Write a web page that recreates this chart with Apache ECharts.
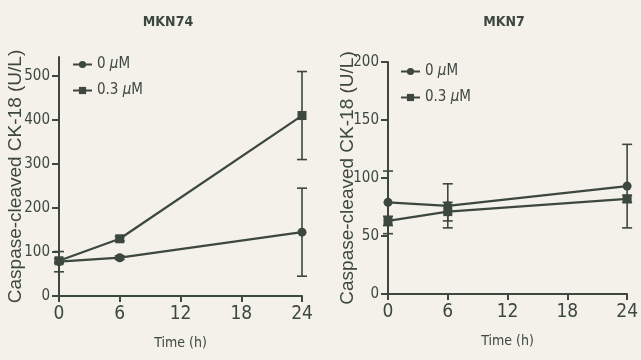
<!DOCTYPE html>
<html>
<head>
<meta charset="utf-8">
<script src="https://cdn.jsdelivr.net/npm/echarts@6/dist/echarts.min.js"></script>
<style>
  html, body { margin: 0; padding: 0; background: #f3f1ea; }
  #chart { width: 641px; height: 360px; }
</style>
</head>
<body>
<div id="chart"></div>
<script>
// 数据
const times = [0, 6, 24];
const seriesNames = ['0 µM', '0.3 µM'];
const xTicks = [0, 6, 12, 18, 24];

// MKN74
const mkn74Mean0 = [78, 87, 145];
const mkn74Sd0 = [23, 4, 100];
const mkn74Mean03 = [80, 130, 410];
const mkn74Sd03 = [5, 5, 100];
const mkn74YTicks = [0, 100, 200, 300, 400, 500];

// MKN7
const mkn7Mean0 = [79, 76, 93];
const mkn7Sd0 = [27, 19, 36];
const mkn7Mean03 = [63, 71, 82];
const mkn7Sd03 = [4, 8, 3];
const mkn7YTicks = [0, 50, 100, 150, 200];

const ink = '#3c473d';
const font = '"Liberation Sans Narrow", "DejaVu Sans Condensed", "Liberation Sans", sans-serif';

const chart = echarts.init(document.getElementById('chart'));

const errData = (mean, sd) => times.map((t, i) => [t, mean[i] - sd[i], mean[i] + sd[i]]);

// 误差棒
const errorBar = (idx, mean, sd) => ({
    type: 'custom',
    xAxisIndex: idx,
    yAxisIndex: idx,
    data: errData(mean, sd),
    encode: { x: 0, y: [1, 2] },
    silent: true,
    z: 3,
    renderItem: (params, api) => {
        const x = api.value(0);
        const lo = api.coord([x, api.value(1)]);
        const hi = api.coord([x, api.value(2)]);
        const w = 5;
        const style = { stroke: ink, lineWidth: 1.6 };
        return {
            type: 'group',
            children: [
                { type: 'line', shape: { x1: lo[0], y1: lo[1], x2: hi[0], y2: hi[1] }, style },
                { type: 'line', shape: { x1: hi[0] - w, y1: hi[1], x2: hi[0] + w, y2: hi[1] }, style },
                { type: 'line', shape: { x1: lo[0] - w, y1: lo[1], x2: lo[0] + w, y2: lo[1] }, style }
            ]
        };
    }
});

const lineSeries = (idx, name, mean, symbol) => ({
    name: name,
    type: 'line',
    xAxisIndex: idx,
    yAxisIndex: idx,
    data: times.map((t, i) => [t, mean[i]]),
    symbol: symbol,
    symbolSize: 9,
    lineStyle: { color: ink, width: 2.2 },
    itemStyle: { color: ink },
    z: 4
});

const xAxisCfg = (idx) => ({
    type: 'value',
    gridIndex: idx,
    min: 0, max: 24, interval: 6,
    name: 'Time (h)',
    nameLocation: 'middle',
    nameGap: 40,
    nameMoveOverlap: false,
    nameTextStyle: { color: ink, fontFamily: font, fontSize: 14 },
    axisLine: { lineStyle: { color: ink, width: 2 } },
    axisTick: { length: 6, customValues: xTicks, lineStyle: { color: ink, width: 2 } },
    axisLabel: { color: ink, fontFamily: font, fontSize: 19, margin: 9, customValues: xTicks },
    splitLine: { show: false }
});

const yAxisCfg = (idx, max, interval, ticks, gap) => ({
    type: 'value',
    gridIndex: idx,
    min: 0, max: max, interval: interval,
    name: 'Caspase-cleaved CK-18 (U/L)',
    nameLocation: 'middle',
    nameGap: gap,
    nameMoveOverlap: false,
    nameTextStyle: { color: ink, fontFamily: '"Liberation Sans", sans-serif', fontSize: 19 },
    axisLine: { show: true, lineStyle: { color: ink, width: 2 } },
    axisTick: { show: true, length: 7, customValues: ticks, lineStyle: { color: ink, width: 2 } },
    axisLabel: { color: ink, fontFamily: font, fontSize: 15, margin: 9, customValues: ticks },
    splitLine: { show: false }
});

const legendCfg = (left, top) => ({
    left: left,
    top: top,
    orient: 'vertical',
    itemWidth: 19,
    itemHeight: 9,
    itemGap: 11,
    data: seriesNames,
    textStyle: {
        color: ink, fontFamily: font, fontSize: 15,
        rich: { i: { fontStyle: 'italic', color: ink, fontFamily: font, fontSize: 15 } }
    },
    formatter: (name) => name.replace('µM', '{i|µ}M'),
    selectedMode: false
});

chart.setOption({
    backgroundColor: '#f3f1ea',
    animation: false,
    title: [
        { text: 'MKN74', left: 163, top: 10, textAlign: 'center',
          textStyle: { color: ink, fontFamily: font, fontSize: 14, fontWeight: 'bold' } },
        { text: 'MKN7', left: 499, top: 10, textAlign: 'center',
          textStyle: { color: ink, fontFamily: font, fontSize: 14, fontWeight: 'bold' } }
    ],
    legend: [legendCfg(67, 52), legendCfg(395, 59)],
    grid: [
        { left: 59, right: 339, top: 57, bottom: 64 },
        { left: 388, right: 9, top: 62, bottom: 66 }
    ],
    xAxis: [xAxisCfg(0), xAxisCfg(1)],
    yAxis: [yAxisCfg(0, 543, 100, mkn74YTicks, 34), yAxisCfg(1, 200, 50, mkn7YTicks, 31)],
    series: [
        lineSeries(0, seriesNames[0], mkn74Mean0, 'circle'),
        lineSeries(0, seriesNames[1], mkn74Mean03, 'rect'),
        errorBar(0, mkn74Mean0, mkn74Sd0),
        errorBar(0, mkn74Mean03, mkn74Sd03),
        lineSeries(1, seriesNames[0], mkn7Mean0, 'circle'),
        lineSeries(1, seriesNames[1], mkn7Mean03, 'rect'),
        errorBar(1, mkn7Mean0, mkn7Sd0),
        errorBar(1, mkn7Mean03, mkn7Sd03)
    ]
});

window.addEventListener('resize', () => chart.resize());
</script>
</body>
</html>
